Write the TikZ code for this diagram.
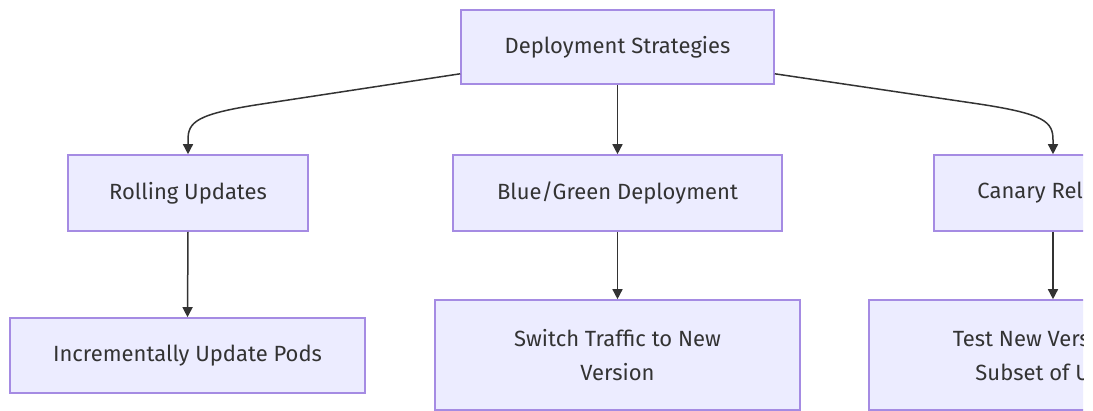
\documentclass[tikz,border=0pt]{standalone}
\usepackage{fontspec}
\setmainfont{Fira Sans}
\usetikzlibrary{arrows.meta}
\definecolor{nodefill}{HTML}{ECECFF}
\definecolor{nodeline}{HTML}{A58BE3}
\definecolor{txt}{HTML}{333333}
\definecolor{edge}{HTML}{333333}
\tikzset{
  box/.style={draw=nodeline, fill=nodefill, line width=1.6pt, text=txt,
    font=\fontsize{22}{34}\selectfont, align=center, inner sep=0pt, anchor=center},
  link/.style={draw=edge, line width=1.5pt, -{Triangle[width=10pt,length=10pt]}},
}
\begin{document}
\begin{tikzpicture}[x=1pt,y=1pt]
\useasboundingbox (0,0) rectangle (1093,-411);
\fill[white] (0,0) rectangle (1093,-411);
\begin{scope}
\clip (0,0) rectangle (1083,-411);
\node[box, minimum width=313pt, minimum height=74pt] (top) at (617.5,-47) {Deployment Strategies};
\node[box, minimum width=240pt, minimum height=76pt] (roll) at (188,-193) {Rolling Updates};
\node[box, minimum width=329pt, minimum height=76pt] (bg) at (617.5,-193) {Blue/Green Deployment};
\node[box, minimum width=238pt, minimum height=76pt] (can) at (1053,-193) {Canary Release};
\node[box, minimum width=355pt, minimum height=75pt] (inc) at (187.5,-355.5) {Incrementally Update Pods};
\node[box, minimum width=365pt, minimum height=110pt] (sw) at (617.5,-355) {Switch Traffic to New\\Version};
\node[box, minimum width=368pt, minimum height=110pt] (test) at (1053,-355) {Test New Version on\\Subset of Users};
\draw[link] ([yshift=11pt]top.south west) -- (262,-104) .. controls (196,-114) and (188,-122) .. (188,-140) -- (roll.north);
\draw[link] ([yshift=11pt]top.south east) -- (979,-104) .. controls (1045,-114) and (1053,-122) .. (1053,-140) -- (can.north);
\draw[link] (top.south) -- (bg.north);
\draw[link] (roll.south) -- (inc.north);
\draw[link] (bg.south) -- (sw.north);
\draw[link] (can.south) -- (test.north);
\end{scope}
\end{tikzpicture}
\end{document}
